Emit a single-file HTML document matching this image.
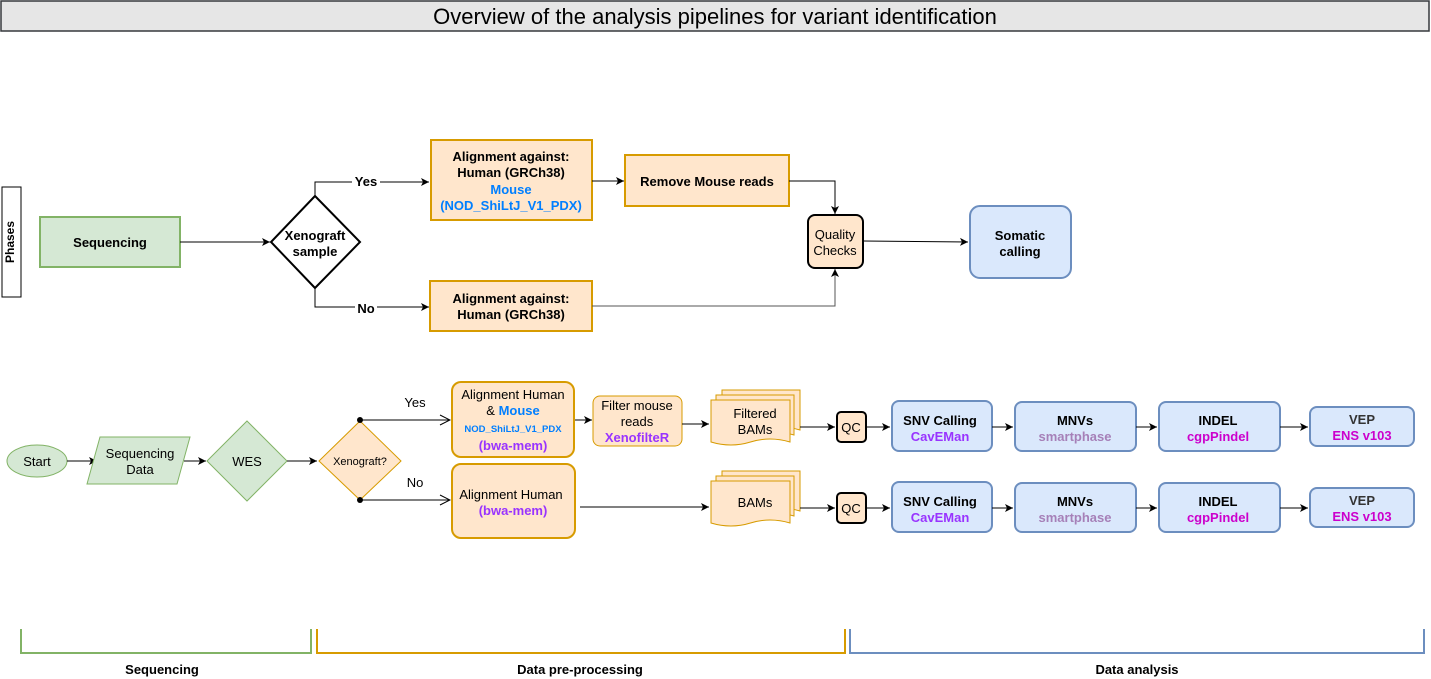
<!DOCTYPE html>
<html><head><meta charset="utf-8"><style>
html,body{margin:0;padding:0;background:#fff;}
svg{display:block;font-family:"Liberation Sans",Arial,sans-serif;}
.b{font-weight:bold;}
</style></head><body>
<svg width="1431" height="679" viewBox="0 0 1431 679" xmlns="http://www.w3.org/2000/svg">
<defs>
<marker id="a" markerWidth="10" markerHeight="10" refX="9" refY="5" orient="auto" markerUnits="userSpaceOnUse"><path d="M1,1 L9,5 L1,9 L3,5 Z" fill="#000"/></marker>
<marker id="o" markerWidth="12" markerHeight="12" refX="11" refY="6" orient="auto" markerUnits="userSpaceOnUse"><path d="M1,1 L11,6 L1,11" fill="none" stroke="#000" stroke-width="1"/></marker>
</defs>
<!-- title -->
<rect x="1" y="1" width="1428" height="30" fill="#e6e6e6" stroke="#36393d" stroke-width="1.5"/>
<text x="715" y="24" font-size="22" text-anchor="middle" fill="#000">Overview of the analysis pipelines for variant identification</text>

<!-- phases -->
<rect x="2" y="187" width="19" height="110" fill="#fff" stroke="#000"/>
<text x="16" y="242" font-size="12" class="b" text-anchor="middle" transform="rotate(-90 16 242)" dy="-2">Phases</text>

<rect x="40" y="217" width="140" height="50" fill="#d5e8d4" stroke="#82b366" stroke-width="2"/>
<text x="110" y="247" font-size="13" class="b" text-anchor="middle">Sequencing</text>
<line x1="180" y1="242" x2="270" y2="242" stroke="#000" marker-end="url(#a)"/>
<polygon points="315,196 360,242 315,288 271,242" fill="#fff" stroke="#000" stroke-width="2"/>
<text x="315" y="240" font-size="13" class="b" text-anchor="middle">Xenograft</text>
<text x="315" y="256" font-size="13" class="b" text-anchor="middle">sample</text>
<polyline points="315,196 315,182 429,182" fill="none" stroke="#000" marker-end="url(#a)"/>
<rect x="352" y="174" width="28" height="14" fill="#fff"/>
<text x="366" y="186" font-size="13" class="b" text-anchor="middle">Yes</text>
<polyline points="315,288 315,307 429,307" fill="none" stroke="#000" marker-end="url(#a)"/>
<rect x="355" y="300" width="22" height="14" fill="#fff"/>
<text x="366" y="313" font-size="13" class="b" text-anchor="middle">No</text>

<rect x="431" y="140" width="161" height="80" fill="#ffe6cc" stroke="#d79b00" stroke-width="2"/>
<text x="511" y="161" font-size="13" class="b" text-anchor="middle">Alignment against:</text>
<text x="511" y="177" font-size="13" class="b" text-anchor="middle">Human (GRCh38)</text>
<text x="511" y="194" font-size="13" class="b" text-anchor="middle" fill="#007fff">Mouse</text>
<text x="511" y="210" font-size="13" class="b" text-anchor="middle" fill="#007fff">(NOD_ShiLtJ_V1_PDX)</text>
<rect x="430" y="281" width="162" height="50" fill="#ffe6cc" stroke="#d79b00" stroke-width="2"/>
<text x="511" y="303" font-size="13" class="b" text-anchor="middle">Alignment against:</text>
<text x="511" y="319" font-size="13" class="b" text-anchor="middle">Human (GRCh38)</text>
<line x1="592" y1="181" x2="624" y2="181" stroke="#000" marker-end="url(#a)"/>
<rect x="625" y="155" width="164" height="51" fill="#ffe6cc" stroke="#d79b00" stroke-width="2"/>
<text x="707" y="186" font-size="13" class="b" text-anchor="middle">Remove Mouse reads</text>
<polyline points="789,181 835,181 835,214" fill="none" stroke="#000" marker-end="url(#a)"/>
<polyline points="592,306 835,306 835,269" fill="none" stroke="#555" marker-end="url(#a)"/>
<rect x="808" y="215" width="55" height="53" rx="7" fill="#ffe6cc" stroke="#000" stroke-width="2"/>
<text x="835" y="239" font-size="13" text-anchor="middle">Quality</text>
<text x="835" y="255" font-size="13" text-anchor="middle">Checks</text>
<line x1="863" y1="241" x2="968" y2="242" stroke="#000" marker-end="url(#a)"/>
<rect x="970" y="206" width="101" height="72" rx="10" fill="#dae8fc" stroke="#6c8ebf" stroke-width="2"/>
<text x="1020" y="240" font-size="13" class="b" text-anchor="middle">Somatic</text>
<text x="1020" y="256" font-size="13" class="b" text-anchor="middle">calling</text>

<!-- bottom flow -->
<ellipse cx="37" cy="461" rx="30" ry="16" fill="#d5e8d4" stroke="#82b366"/>
<text x="37" y="466" font-size="13" text-anchor="middle">Start</text>
<line x1="67" y1="461" x2="97" y2="461" stroke="#000" marker-end="url(#a)"/>
<polygon points="100,437 190,437 177,484 87,484" fill="#d5e8d4" stroke="#82b366"/>
<text x="140" y="458" font-size="13" text-anchor="middle">Sequencing</text>
<text x="140" y="474" font-size="13" text-anchor="middle">Data</text>
<line x1="184" y1="461" x2="206" y2="461" stroke="#000" marker-end="url(#a)"/>
<polygon points="247,421 287,461 247,501 207,461" fill="#d5e8d4" stroke="#82b366"/>
<text x="247" y="466" font-size="13" text-anchor="middle">WES</text>
<line x1="287" y1="461" x2="317" y2="461" stroke="#000" marker-end="url(#a)"/>
<polygon points="360,421 401,461 360,500 319,461" fill="#ffe6cc" stroke="#d79b00"/>
<text x="360" y="465" font-size="11" text-anchor="middle">Xenograft?</text>
<circle cx="360" cy="420" r="3" fill="#000"/>
<circle cx="360" cy="500" r="3" fill="#000"/>
<line x1="360" y1="420" x2="450" y2="420" stroke="#000" marker-end="url(#o)"/>
<line x1="360" y1="500" x2="450" y2="500" stroke="#000" marker-end="url(#o)"/>
<text x="415" y="407" font-size="13" text-anchor="middle">Yes</text>
<text x="415" y="487" font-size="13" text-anchor="middle">No</text>

<rect x="452" y="382" width="122" height="75" rx="9" fill="#ffe6cc" stroke="#d79b00" stroke-width="2"/>
<text x="513" y="399" font-size="13" text-anchor="middle">Alignment Human</text>
<text x="513" y="415" font-size="13" text-anchor="middle">&amp; <tspan fill="#007fff" class="b">Mouse</tspan></text>
<text x="513" y="432" font-size="9.5" class="b" text-anchor="middle" fill="#007fff">NOD_ShiLtJ_V1_PDX</text>
<text x="513" y="450" font-size="13" class="b" text-anchor="middle" fill="#9933ff">(bwa-mem)</text>
<rect x="452" y="464" width="123" height="74" rx="9" fill="#ffe6cc" stroke="#d79b00" stroke-width="2"/>
<text x="511" y="499" font-size="13" text-anchor="middle">Alignment Human</text>
<text x="513" y="515" font-size="13" class="b" text-anchor="middle" fill="#9933ff">(bwa-mem)</text>
<line x1="575" y1="420" x2="592" y2="420" stroke="#000" marker-end="url(#a)"/>
<rect x="593" y="396" width="89" height="50" rx="7" fill="#ffe6cc" stroke="#d79b00"/>
<text x="637" y="410" font-size="13" text-anchor="middle">Filter mouse</text>
<text x="637" y="426" font-size="13" text-anchor="middle">reads</text>
<text x="637" y="442" font-size="13" class="b" text-anchor="middle" fill="#9933ff">XenofilteR</text>
<line x1="682" y1="424" x2="709" y2="424" stroke="#000" marker-end="url(#a)"/>
<line x1="580" y1="507" x2="709" y2="507" stroke="#000" marker-end="url(#a)"/>

<g id="doc1" fill="#ffe6cc" stroke="#d79b00">
<path d="M722,390 h78 v40 q-20,-6 -39,0 t-39,0 z" />
<path d="M716,395 h78 v40 q-20,-6 -39,0 t-39,0 z" />
<path d="M711,400 h79 v42 q-20,-6 -39.5,0 t-39.5,0 z" />
</g>
<text x="755" y="418" font-size="13" text-anchor="middle">Filtered</text>
<text x="755" y="434" font-size="13" text-anchor="middle">BAMs</text>
<g fill="#ffe6cc" stroke="#d79b00">
<path d="M722,471 h78 v40 q-20,-6 -39,0 t-39,0 z" />
<path d="M716,476 h78 v40 q-20,-6 -39,0 t-39,0 z" />
<path d="M711,481 h79 v42 q-20,-6 -39.5,0 t-39.5,0 z" />
</g>
<text x="755" y="507" font-size="13" text-anchor="middle">BAMs</text>

<g font-size="13">
<line x1="800" y1="427" x2="835" y2="427" stroke="#000" marker-end="url(#a)"/>
<rect x="837" y="412" width="29" height="30" rx="4" fill="#ffe6cc" stroke="#000" stroke-width="2"/>
<text x="851" y="432" text-anchor="middle">QC</text>
<line x1="866" y1="427" x2="890" y2="427" stroke="#000" marker-end="url(#a)"/>
<line x1="800" y1="508" x2="835" y2="508" stroke="#000" marker-end="url(#a)"/>
<rect x="837" y="493" width="29" height="30" rx="4" fill="#ffe6cc" stroke="#000" stroke-width="2"/>
<text x="851" y="513" text-anchor="middle">QC</text>
<line x1="866" y1="508" x2="890" y2="508" stroke="#000" marker-end="url(#a)"/>
</g>

<g font-size="13" class="b" text-anchor="middle">
<rect x="892" y="401" width="100" height="50" rx="7" fill="#dae8fc" stroke="#6c8ebf" stroke-width="2"/>
<text x="940" y="425">SNV Calling</text><text x="940" y="441" fill="#9933ff">CavEMan</text>
<line x1="992" y1="427" x2="1013" y2="427" stroke="#000" marker-end="url(#a)"/>
<rect x="1015" y="402" width="121" height="49" rx="7" fill="#dae8fc" stroke="#6c8ebf" stroke-width="2"/>
<text x="1075" y="425">MNVs</text><text x="1075" y="441" fill="#a680b8">smartphase</text>
<line x1="1136" y1="427" x2="1157" y2="427" stroke="#000" marker-end="url(#a)"/>
<rect x="1159" y="402" width="121" height="49" rx="7" fill="#dae8fc" stroke="#6c8ebf" stroke-width="2"/>
<text x="1218" y="425">INDEL</text><text x="1218" y="441" fill="#cc00cc">cgpPindel</text>
<line x1="1280" y1="427" x2="1308" y2="427" stroke="#000" marker-end="url(#a)"/>
<rect x="1310" y="407" width="104" height="39" rx="7" fill="#dae8fc" stroke="#6c8ebf" stroke-width="2"/>
<text x="1362" y="424" fill="#333">VEP</text><text x="1362" y="440" fill="#cc00cc">ENS v103</text>

<rect x="892" y="482" width="100" height="50" rx="7" fill="#dae8fc" stroke="#6c8ebf" stroke-width="2"/>
<text x="940" y="506">SNV Calling</text><text x="940" y="522" fill="#9933ff">CavEMan</text>
<line x1="992" y1="508" x2="1013" y2="508" stroke="#000" marker-end="url(#a)"/>
<rect x="1015" y="483" width="121" height="49" rx="7" fill="#dae8fc" stroke="#6c8ebf" stroke-width="2"/>
<text x="1075" y="506">MNVs</text><text x="1075" y="522" fill="#a680b8">smartphase</text>
<line x1="1136" y1="508" x2="1157" y2="508" stroke="#000" marker-end="url(#a)"/>
<rect x="1159" y="483" width="121" height="49" rx="7" fill="#dae8fc" stroke="#6c8ebf" stroke-width="2"/>
<text x="1218" y="506">INDEL</text><text x="1218" y="522" fill="#cc00cc">cgpPindel</text>
<line x1="1280" y1="508" x2="1308" y2="508" stroke="#000" marker-end="url(#a)"/>
<rect x="1310" y="488" width="104" height="39" rx="7" fill="#dae8fc" stroke="#6c8ebf" stroke-width="2"/>
<text x="1362" y="505" fill="#333">VEP</text><text x="1362" y="521" fill="#cc00cc">ENS v103</text>
</g>

<!-- brackets -->
<polyline points="21,629 21,653 311,653 311,629" fill="none" stroke="#82b366" stroke-width="2"/>
<polyline points="317,629 317,653 845,653 845,629" fill="none" stroke="#d79b00" stroke-width="2"/>
<polyline points="850,629 850,653 1424,653 1424,629" fill="none" stroke="#6c8ebf" stroke-width="2"/>
<g font-size="13" class="b" text-anchor="middle">
<text x="162" y="674">Sequencing</text>
<text x="580" y="674">Data pre-processing</text>
<text x="1137" y="674">Data analysis</text>
</g>
</svg>
</body></html>
